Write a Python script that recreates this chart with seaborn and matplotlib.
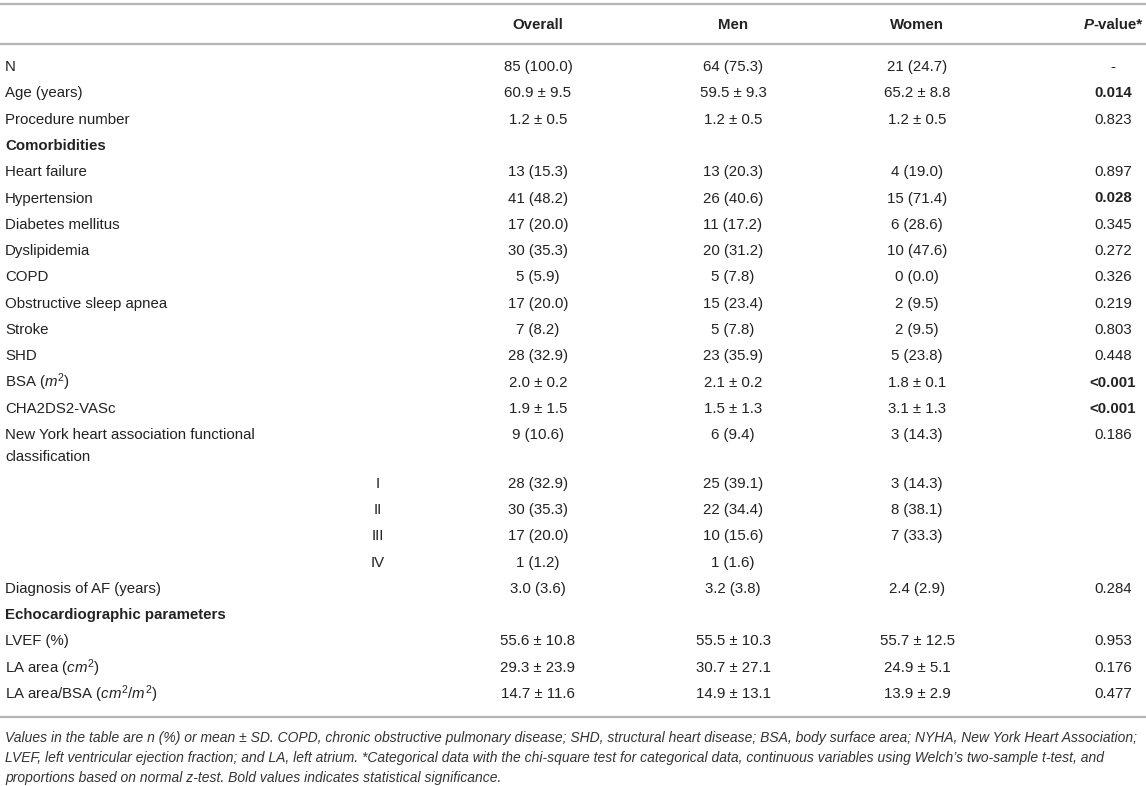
import matplotlib
matplotlib.use("Agg")
import matplotlib.pyplot as plt
import seaborn as sns

# Table content
labels = [
    "N", "Age (years)", "Procedure number", "Comorbidities", "Heart failure",
    "Hypertension", "Diabetes mellitus", "Dyslipidemia", "COPD",
    "Obstructive sleep apnea", "Stroke", "SHD", r"BSA ($m^2$)", "CHA2DS2-VASc",
    "New York heart association functional\nclassification",
    "I", "II", "III", "IV",
    "Diagnosis of AF (years)", "Echocardiographic parameters", "LVEF (%)",
    r"LA area ($cm^2$)", r"LA area/BSA ($cm^2/m^2$)",
]
overall = [
    "85 (100.0)", "60.9 ± 9.5", "1.2 ± 0.5", "", "13 (15.3)", "41 (48.2)",
    "17 (20.0)", "30 (35.3)", "5 (5.9)", "17 (20.0)", "7 (8.2)", "28 (32.9)",
    "2.0 ± 0.2", "1.9 ± 1.5", "9 (10.6)", "28 (32.9)", "30 (35.3)", "17 (20.0)",
    "1 (1.2)", "3.0 (3.6)", "", "55.6 ± 10.8", "29.3 ± 23.9", "14.7 ± 11.6",
]
men = [
    "64 (75.3)", "59.5 ± 9.3", "1.2 ± 0.5", "", "13 (20.3)", "26 (40.6)",
    "11 (17.2)", "20 (31.2)", "5 (7.8)", "15 (23.4)", "5 (7.8)", "23 (35.9)",
    "2.1 ± 0.2", "1.5 ± 1.3", "6 (9.4)", "25 (39.1)", "22 (34.4)", "10 (15.6)",
    "1 (1.6)", "3.2 (3.8)", "", "55.5 ± 10.3", "30.7 ± 27.1", "14.9 ± 13.1",
]
women = [
    "21 (24.7)", "65.2 ± 8.8", "1.2 ± 0.5", "", "4 (19.0)", "15 (71.4)",
    "6 (28.6)", "10 (47.6)", "0 (0.0)", "2 (9.5)", "2 (9.5)", "5 (23.8)",
    "1.8 ± 0.1", "3.1 ± 1.3", "3 (14.3)", "3 (14.3)", "8 (38.1)", "7 (33.3)",
    "", "2.4 (2.9)", "", "55.7 ± 12.5", "24.9 ± 5.1", "13.9 ± 2.9",
]
pvals = [
    "-", "0.014", "0.823", "", "0.897", "0.028", "0.345", "0.272", "0.326",
    "0.219", "0.803", "0.448", "<0.001", "<0.001", "0.186", "", "", "", "",
    "0.284", "", "0.953", "0.176", "0.477",
]
p_bold = ["0.014", "0.028", "<0.001"]
section_rows = ["Comorbidities", "Echocardiographic parameters"]
roman_rows = ["I", "II", "III", "IV"]

footnote = [
    "Values in the table are n (%) or mean ± SD. COPD, chronic obstructive pulmonary disease; "
    "SHD, structural heart disease; BSA, body surface area; NYHA, New York Heart Association;",
    "LVEF, left ventricular ejection fraction; and LA, left atrium. *Categorical data with the "
    "chi-square test for categorical data, continuous variables using Welch\u2019s two-sample t-test, and",
    "proportions based on normal z-test. Bold values indicates statistical significance.",
]

sns.set_theme(style="white")
plt.rcParams["font.family"] = ["Liberation Sans", "DejaVu Sans"]
plt.rcParams["mathtext.fontset"] = "custom"
plt.rcParams["mathtext.rm"] = "Liberation Sans"
plt.rcParams["mathtext.it"] = "Liberation Sans:italic"
plt.rcParams["mathtext.bf"] = "Liberation Sans:bold"

W, H = 1146, 786
fig = plt.figure(figsize=(W / 100, H / 100), dpi=100)
ax = fig.add_axes([0, 0, 1, 1])
ax.set_xlim(0, W)
ax.set_ylim(H, 0)
ax.axis("off")

txt = "#222222"
rule = "#b5b5b5"
fs = 10.8
x_label, x_roman = 5, 378
col_x = [538, 733, 917, 1113]

# rules
for yy in (4, 44, 717):
    ax.plot([0, W], [yy, yy], color=rule, lw=1.6, solid_capstyle="butt")

# header
hy = 25
for x, name in zip(col_x[:3], ["Overall", "Men", "Women"]):
    ax.text(x, hy, name, ha="center", va="center", fontsize=fs, weight="bold", color=txt)
pv = ax.text(1143, hy, "-value*", ha="right", va="center", fontsize=fs, weight="bold", color=txt)
ax.annotate("P", xy=(0, 0.5), xycoords=pv, ha="right", va="center", fontsize=fs,
            weight="bold", style="italic", color=txt)

# body rows
y = 67
pitch = 26.3
for i, lab in enumerate(labels):
    if lab in roman_rows:
        ax.text(x_roman, y, lab, ha="center", va="center", fontsize=fs, color=txt)
    elif "\n" in lab:
        first, second = lab.split("\n")
        ax.text(x_label, y, first, ha="left", va="center", fontsize=fs, color=txt)
        ax.text(x_label, y + 22, second, ha="left", va="center", fontsize=fs, color=txt)
    else:
        ax.text(x_label, y, lab, ha="left", va="center", fontsize=fs, color=txt,
                weight="bold" if lab in section_rows else "normal")
    for x, val in zip(col_x, [overall[i], men[i], women[i], pvals[i]]):
        if val:
            ax.text(x, y, val, ha="center", va="center", fontsize=fs, color=txt,
                    weight="bold" if (x == col_x[3] and val in p_bold) else "normal")
    y += pitch + (22.2 if "\n" in lab else 0)

# footnote
for k, line in enumerate(footnote):
    ax.text(x_label, 738 + 20 * k, line, ha="left", va="center", fontsize=10.0,
            style="italic", color="#333333")

fig.savefig("out.png", dpi=100)
